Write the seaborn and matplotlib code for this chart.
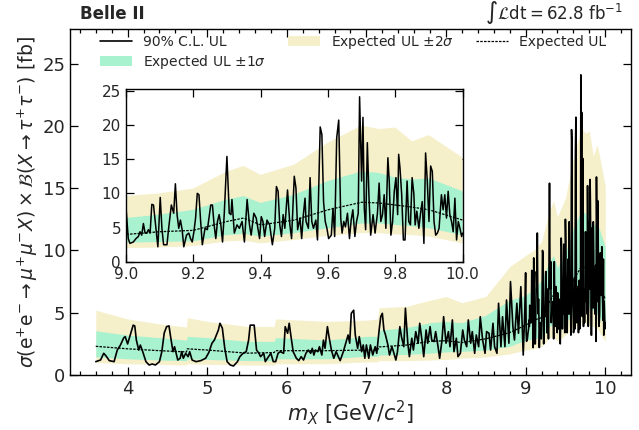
import matplotlib
matplotlib.use("Agg")
import matplotlib.pyplot as plt
import numpy as np
import pandas as pd
import seaborn as sns
from matplotlib.ticker import MultipleLocator, FormatStrFormatter

# observed 90% CL upper limit (mass in GeV, limit in fb)
mass_obs = [
    3.60, 3.66, 3.70, 3.73, 3.77, 3.83, 3.87, 3.91, 3.95, 3.97, 4.00, 4.04, 4.07, 4.09, 4.11,
    4.14, 4.16, 4.19, 4.23, 4.27, 4.31, 4.35, 4.40, 4.43, 4.46, 4.49, 4.52, 4.54, 4.57, 4.59,
    4.63, 4.66, 4.68, 4.70, 4.73, 4.76, 4.78, 4.81, 4.86, 4.92, 4.98, 5.02, 5.06, 5.09, 5.14,
    5.16, 5.19, 5.22, 5.25, 5.29, 5.33, 5.38, 5.41, 5.45, 5.49, 5.52, 5.54, 5.59, 5.62, 5.65,
    5.67, 5.71, 5.73, 5.77, 5.80, 5.83, 5.86, 5.89, 5.92, 5.96, 5.98, 6.01, 6.03, 6.05, 6.08,
    6.12, 6.15, 6.18, 6.21, 6.24, 6.27, 6.30, 6.32, 6.34, 6.36, 6.39, 6.41, 6.44, 6.46, 6.48,
    6.51, 6.53, 6.56, 6.59, 6.62, 6.67, 6.71, 6.74, 6.77, 6.79, 6.81, 6.84, 6.86, 6.89, 6.91,
    6.94, 6.96, 6.98, 7.00, 7.03, 7.05, 7.08, 7.11, 7.13, 7.16, 7.18, 7.20, 7.22, 7.24, 7.27,
    7.29, 7.32, 7.34, 7.37, 7.39, 7.42, 7.44, 7.47, 7.49, 7.52, 7.54, 7.57, 7.59, 7.62, 7.65,
    7.67, 7.70, 7.72, 7.75, 7.77, 7.80, 7.82, 7.85, 7.87, 7.90, 7.92, 7.95, 7.97, 8.00, 8.03,
    8.05, 8.08, 8.10, 8.13, 8.15, 8.18, 8.21, 8.23, 8.26, 8.28, 8.31, 8.33, 8.36, 8.38, 8.41,
    8.43, 8.46, 8.49, 8.51, 8.54, 8.56, 8.59, 8.61, 8.64, 8.66, 8.69, 8.71, 8.74, 8.76, 8.79,
    8.81, 8.84, 8.86, 8.89, 8.91, 8.94, 8.97, 8.99,
    9.000, 9.007, 9.012, 9.022, 9.030, 9.037, 9.042, 9.047, 9.052, 9.057, 9.062, 9.067, 9.072,
    9.077, 9.082, 9.087, 9.095, 9.102, 9.107, 9.112, 9.122, 9.127, 9.135, 9.142, 9.147, 9.152,
    9.157, 9.162, 9.167, 9.172, 9.180, 9.187, 9.192, 9.197, 9.202, 9.207, 9.212, 9.217, 9.222,
    9.227, 9.235, 9.242, 9.252, 9.257, 9.262, 9.267, 9.272, 9.277, 9.282, 9.287, 9.292, 9.300,
    9.307, 9.312, 9.315, 9.322, 9.330, 9.337, 9.345, 9.352, 9.360, 9.367, 9.372, 9.380, 9.387,
    9.392, 9.397, 9.402, 9.407, 9.412, 9.419, 9.427, 9.435, 9.442, 9.447, 9.452, 9.457, 9.462,
    9.467, 9.472, 9.480, 9.487, 9.492, 9.500, 9.505, 9.510, 9.517, 9.522, 9.527, 9.532, 9.535,
    9.542, 9.547, 9.552, 9.557, 9.564, 9.569, 9.577, 9.582, 9.587, 9.592, 9.597, 9.602, 9.610,
    9.615, 9.620, 9.626, 9.632, 9.638, 9.642, 9.647, 9.652, 9.658, 9.664, 9.669, 9.674, 9.680,
    9.685, 9.690, 9.694, 9.700, 9.704, 9.708, 9.712, 9.717, 9.722, 9.727, 9.734, 9.740, 9.747,
    9.752, 9.757, 9.762, 9.767, 9.772, 9.778, 9.782, 9.787, 9.792, 9.797, 9.802, 9.807, 9.810,
    9.814, 9.819, 9.824, 9.829, 9.835, 9.840, 9.845, 9.850, 9.855, 9.859, 9.864, 9.870, 9.875,
    9.880, 9.885, 9.890, 9.895, 9.900, 9.905, 9.910, 9.915, 9.920, 9.925, 9.930, 9.937, 9.942,
    9.947, 9.952, 9.957, 9.962, 9.967, 9.972, 9.977, 9.982, 9.987, 9.992, 9.997, 10.000,
]
ul_obs = [
    1.07, 1.20, 1.74, 1.52, 1.15, 1.07, 2.00, 2.40, 2.97, 3.08, 2.49, 3.37, 4.00, 3.94, 2.80,
    2.00, 2.40, 1.87, 1.07, 0.80, 0.88, 0.80, 1.07, 1.87, 3.37, 3.88, 3.94, 3.08, 1.87, 2.27,
    1.20, 1.34, 1.87, 1.34, 1.74, 1.47, 1.87, 1.20, 1.07, 1.15, 1.34, 1.80, 2.55, 2.80, 3.60,
    4.15, 3.76, 2.17, 1.07, 0.80, 0.72, 1.07, 1.47, 1.74, 1.87, 2.80, 4.00, 4.00, 2.00, 1.74,
    1.47, 1.74, 1.07, 1.47, 1.74, 1.07, 1.07, 1.74, 1.87, 1.74, 3.88, 3.35, 4.15, 3.21, 1.87,
    1.34, 1.15, 1.47, 1.20, 1.74, 2.00, 1.74, 2.14, 1.60, 2.00, 1.87, 2.27, 1.60, 2.80, 2.14,
    3.88, 3.08, 2.00, 1.34, 1.87, 1.15, 1.87, 2.55, 3.21, 2.55, 4.95, 5.20, 3.21, 2.14, 3.08,
    1.87, 2.41, 1.34, 2.41, 1.34, 2.41, 1.60, 2.27, 1.74, 3.61, 4.68, 4.95, 3.61, 3.21, 2.41,
    1.60, 2.27, 1.87, 1.20, 1.87, 3.88, 3.08, 2.27, 5.36, 2.55, 1.47, 2.95, 2.00, 3.48, 2.55,
    4.15, 2.68, 1.47, 3.61, 2.55, 3.88, 2.81, 2.68, 3.48, 2.27, 1.34, 2.81, 4.68, 2.55, 3.48,
    2.27, 4.42, 1.87, 2.95, 1.47, 1.74, 3.61, 2.81, 2.27, 4.42, 2.55, 3.48, 1.74, 3.21, 2.27,
    4.68, 2.81, 1.74, 3.48, 3.35, 2.00, 4.15, 2.27, 1.74, 5.76, 2.27, 4.68, 2.27, 6.02, 2.55,
    7.50, 3.88, 2.81, 5.76, 3.35, 7.09, 1.60, 5.22,
    8.2, 3.4, 2.7, 2.9, 3.4, 3.7, 4.4, 3.9, 5.6, 4.2, 4.2, 4.7, 4.2,
    8.4, 8.3, 5.9, 2.2, 9.4, 4.9, 2.5, 2.5, 4.9, 8.3, 7.1, 11.4, 6.9,
    4.9, 6.1, 4.7, 2.2, 3.9, 4.2, 3.4, 2.9, 4.4, 6.4, 10.0, 9.8, 5.9,
    2.5, 4.9, 4.7, 8.3, 8.3, 5.4, 3.4, 5.9, 6.9, 5.4, 2.9, 6.9, 15.4,
    7.1, 6.9, 9.1, 4.2, 5.4, 4.9, 5.9, 2.9, 9.1, 5.4, 3.9, 7.1, 6.4,
    4.9, 3.4, 6.6, 5.9, 3.7, 6.1, 5.4, 2.5, 4.9, 11.0, 10.3, 5.4, 3.7,
    6.9, 4.9, 10.5, 5.4, 3.4, 12.5, 10.8, 4.7, 6.4, 3.4, 6.9, 9.3, 5.9,
    4.9, 12.3, 5.9, 4.9, 6.1, 3.2, 19.7, 18.6, 8.8, 5.9, 4.9, 3.4, 3.9,
    7.8, 3.7, 18.1, 20.7, 6.4, 4.2, 5.9, 5.1, 7.1, 3.4, 6.1, 7.6, 3.7,
    5.9, 7.1, 24.1, 11.8, 21.1, 7.8, 4.7, 17.4, 9.3, 3.9, 6.9, 4.2, 7.1,
    11.5, 5.9, 6.9, 9.8, 4.9, 15.2, 11.8, 3.9, 5.9, 10.3, 12.3, 6.9, 15.7,
    13.7, 9.8, 3.2, 3.2, 11.8, 5.9, 5.4, 12.3, 10.0, 5.4, 7.4, 4.9, 7.1,
    8.8, 2.7, 15.9, 11.8, 5.9, 14.0, 13.2, 5.9, 3.9, 4.2, 4.9, 9.8, 7.6,
    9.8, 6.4, 10.3, 6.9, 5.9, 4.4, 9.3, 3.2, 5.9, 4.9, 3.7, 4.2,
]

# expected limit and bands
mass_exp = [3.60, 4.00, 4.40, 4.74, 4.75, 5.00, 5.50, 5.84, 5.86, 6.50, 7.00, 7.14, 7.16,
            7.50, 7.80, 8.00, 8.20, 8.50, 8.80, 9.00, 9.10, 9.20, 9.30, 9.35, 9.40, 9.50,
            9.60, 9.70, 9.75, 9.80, 9.85, 9.90, 10.00]
ul_exp = [2.30, 2.10, 1.95, 1.85, 2.10, 2.00, 1.75, 1.80, 1.95, 1.95, 2.00, 2.00, 2.25,
          2.40, 2.70, 2.75, 2.60, 2.90, 3.40, 4.00, 4.40, 4.60, 5.90, 6.40, 5.40, 6.10,
          7.60, 8.70, 8.60, 8.30, 8.00, 7.60, 6.10]
exp_p1 = [3.55, 3.20, 3.00, 2.80, 3.10, 3.00, 2.70, 2.70, 3.00, 2.80, 3.10, 3.10, 3.60,
          3.80, 4.20, 4.30, 4.20, 4.80, 6.00, 6.40, 6.90, 7.60, 9.10, 9.60, 8.60, 9.80,
          11.8, 13.2, 13.0, 12.3, 12.0, 12.2, 10.3]
exp_m1 = [1.45, 1.30, 1.20, 1.15, 1.30, 1.25, 1.15, 1.15, 1.30, 1.30, 1.50, 1.50, 1.60,
          1.65, 1.75, 1.85, 1.90, 2.00, 2.30, 2.80, 2.90, 3.00, 3.90, 4.10, 3.70, 4.20,
          4.90, 5.60, 5.60, 5.40, 5.20, 4.90, 3.90]
exp_p2 = [5.20, 4.50, 4.10, 3.85, 4.60, 4.30, 3.90, 3.90, 4.50, 4.30, 4.40, 4.50, 5.40,
          5.50, 6.00, 6.30, 5.80, 6.30, 8.70, 9.60, 10.0, 10.7, 13.2, 14.0, 12.7, 14.2,
          17.4, 19.9, 19.4, 19.6, 17.6, 18.5, 15.2]
exp_m2 = [1.00, 0.90, 0.85, 0.80, 0.90, 0.85, 0.80, 0.80, 0.90, 0.90, 1.05, 1.05, 1.15,
          1.15, 1.20, 1.25, 1.35, 1.45, 1.70, 2.00, 2.10, 2.30, 3.00, 3.10, 2.70, 3.20,
          3.80, 4.20, 4.20, 4.00, 3.90, 3.70, 2.70]

obs = pd.DataFrame({"mass": mass_obs, "ul": ul_obs})
exp = pd.DataFrame({"mass": mass_exp, "exp": ul_exp, "p1": exp_p1, "m1": exp_m1,
                    "p2": exp_p2, "m2": exp_m2})

YELLOW = "#f5efca"
GREEN = "#a8f2d0"

sns.set_style("ticks")
plt.rcParams["font.family"] = ["DejaVu Sans"]
plt.rcParams["mathtext.fontset"] = "dejavusans"


def draw(ax, lw=1.2):
    ax.fill_between(exp["mass"], exp["m2"], exp["p2"], color=YELLOW, lw=0,
                    label=r"Expected UL $\pm 2\sigma$")
    ax.fill_between(exp["mass"], exp["m1"], exp["p1"], color=GREEN, lw=0,
                    label=r"Expected UL $\pm 1\sigma$")
    sns.lineplot(data=obs, x="mass", y="ul", ax=ax, color="black", lw=lw,
                 estimator=None, sort=False, label="90% C.L. UL")
    sns.lineplot(data=exp, x="mass", y="exp", ax=ax, color="black", lw=0.9,
                 ls=(0, (2, 1)), estimator=None, sort=False, label="Expected UL")


def style_ticks(ax, size):
    ax.tick_params(which="both", direction="in", top=True, right=True,
                   labelsize=size, color="black", width=0.9)
    ax.tick_params(which="major", length=6)
    ax.tick_params(which="minor", length=3)
    for s in ax.spines.values():
        s.set_linewidth(1.0)
        s.set_color("black")


fig = plt.figure(figsize=(6.39, 4.30), dpi=100)
ax = fig.add_axes([0.110, 0.128, 0.877, 0.805])
draw(ax, lw=1.2)
ax.set_ylim(0, 27.8)
ax.xaxis.set_major_locator(MultipleLocator(1))
ax.xaxis.set_minor_locator(MultipleLocator(0.2))
ax.yaxis.set_major_locator(MultipleLocator(5))
style_ticks(ax, 13)
ax.set_xlabel(r"$m_X$ [GeV/$c^2$]", fontsize=15, labelpad=0)
ax.set_ylabel(r"$\sigma(\mathrm{e^{+}e^{-}} \to \mu^{+}\mu^{-}X) \times \mathcal{B}(X \to \tau^{+}\tau^{-})$ [fb]",
              fontsize=13.5, labelpad=2)

h, l = ax.get_legend_handles_labels()
order = [l.index("90% C.L. UL"), l.index(r"Expected UL $\pm 1\sigma$"),
         l.index(r"Expected UL $\pm 2\sigma$"), l.index("Expected UL")]
ax.legend([h[i] for i in order], [l[i] for i in order], ncol=3, frameon=False,
          loc="upper left", bbox_to_anchor=(0.03, 1.025), fontsize=10,
          handlelength=2.3, columnspacing=1.6, labelspacing=0.3, handletextpad=0.8)

fig.text(0.125, 0.955, "Belle II", fontsize=12, fontweight="bold")
fig.text(0.975, 0.955, r"$\int\mathcal{L}\mathrm{dt} = 62.8\ \mathrm{fb}^{-1}$",
         fontsize=12, ha="right")

# zoomed inset for 9-10 GeV
ins = fig.add_axes([0.197, 0.391, 0.527, 0.403])
draw(ins, lw=1.1)
ins.get_legend().remove()
ins.set_xlim(9.0, 10.0)
ins.set_ylim(0, 25.3)
ins.xaxis.set_major_locator(MultipleLocator(0.2))
ins.yaxis.set_major_locator(MultipleLocator(5))
ins.xaxis.set_major_formatter(FormatStrFormatter("%.1f"))
style_ticks(ins, 11)
ins.set_xlabel("")
ins.set_ylabel("")

fig.savefig("out.png", dpi=100)
